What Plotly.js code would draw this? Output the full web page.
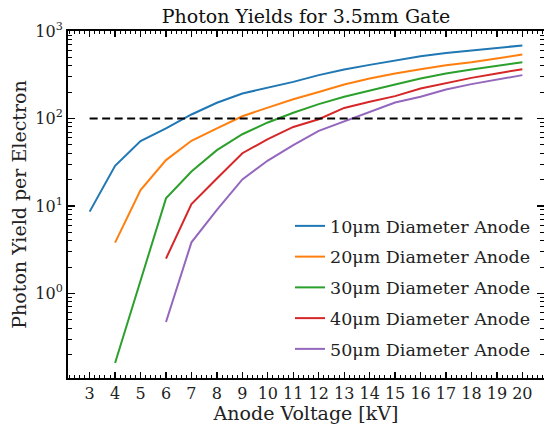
<!DOCTYPE html>
<html>
<head>
<meta charset="utf-8">
<script src="https://cdn.plot.ly/plotly-3.0.1.min.js"></script>
<style>html,body{margin:0;padding:0;background:#fff;}#chart{width:544px;height:424px;}</style>
</head>
<body>
<div id="chart"></div>
<script>
// Anode voltage in kV
const voltage = [3,4,5,6,7,8,9,10,11,12,13,14,15,16,17,18,19,20];
const seriesNames = ["10\u03bcm Diameter Anode","20\u03bcm Diameter Anode","30\u03bcm Diameter Anode","40\u03bcm Diameter Anode","50\u03bcm Diameter Anode"];
const colors = ["#1f77b4","#ff7f0e","#2ca02c","#d62728","#9467bd"];
// photon yield per electron (null = no point)
const y10 = [8.6,28.7,55,77,111,151,193,225,262,313,363,410,457,515,562,603,641,683];
const y20 = [null,3.8,15.2,33.4,55.5,77,106,133,166,201,245,286,327,366,407,440,485,538];
const y30 = [null,0.16,1.4,12.2,24.7,43.4,66,90,116,146,177,210,245,286,327,363,399,440];
const y40 = [null,null,null,2.5,10.5,20.6,40,58,80,98,132,155,180,220,255,291,327,366];
const y50 = [null,null,null,0.47,3.83,9.0,20.1,33,49.5,72,93,119,152,177,214,247,279,313];
const threshold = 100;
const yTickVals = [1,10,100,1000];
const yTickText = ["10<sup>0</sup>","10<sup>1</sup>","10<sup>2</sup>","10<sup>3</sup>"];

const allY = [y10,y20,y30,y40,y50];
const traces = allY.map((ys,i)=>({
  type:"scatter", mode:"lines", x:voltage, y:ys, name:seriesNames[i],
  line:{color:colors[i], width:2}, legendgroup:"g"+i, connectgaps:false
}));
traces.push({type:"scatter", mode:"lines", x:[voltage[0], voltage[voltage.length-1]], y:[threshold,threshold],
  line:{color:"#000", width:2, dash:"8px,4.5px"}, showlegend:false, hoverinfo:"skip"});

const font = "DejaVu Serif";
const layout = {
  width:544, height:424,
  margin:{l:68, r:0, t:31, b:46},
  paper_bgcolor:"#fff", plot_bgcolor:"#fff",
  font:{family:font, color:"#222"},
  title:{text:"Photon Yields for 3.5mm Gate", font:{family:font, size:19, color:"#111"},
         x:0.5625, xanchor:"center", y:1-16/424, yref:"container", yanchor:"middle"},
  xaxis:{range:[2.15,20.85], tickvals:voltage, ticks:"inside", ticklen:6, tickwidth:1.3, tickcolor:"#000",
         showline:true, linecolor:"#000", linewidth:2, mirror:"allticks", showgrid:false, zeroline:false,
         tickfont:{family:font, size:16, color:"#222"},
         minor:{dtick:0.2, tick0:0, ticks:"inside", ticklen:3, tickwidth:1, tickcolor:"#000", showgrid:false},
         title:{text:"Anode Voltage [kV]", font:{family:font, size:19, color:"#222"}, standoff:2}},
  yaxis:{type:"log", range:[-0.968,3.0], tickvals:yTickVals, ticktext:yTickText, ticks:"inside", ticklen:7, tickwidth:1.3,
         tickcolor:"#000", showline:true, linecolor:"#000", linewidth:2, mirror:"allticks", showgrid:false, zeroline:false,
         tickfont:{family:font, size:16, color:"#222"},
         minor:{dtick:"D1", ticks:"inside", ticklen:4, tickwidth:1, tickcolor:"#000", showgrid:false},
         title:{text:"Photon Yield per Electron", font:{family:font, size:19, color:"#222"}, standoff:4}},
  legend:{x:(290-68)/476, xanchor:"left", y:1-(208-31)/347, yanchor:"top", bgcolor:"rgba(0,0,0,0)",
          font:{family:font, size:17.5, color:"#222"}, traceorder:"grouped", tracegroupgap:5},
  showlegend:true
};
Plotly.newPlot("chart", traces, layout, {displayModeBar:false, staticPlot:true});
</script>
</body>
</html>
